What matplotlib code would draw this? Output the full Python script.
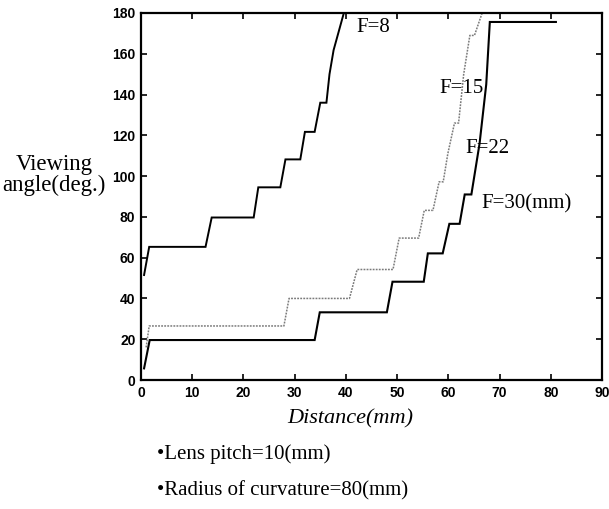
import matplotlib
matplotlib.use("Agg")
import matplotlib.pyplot as plt

# ---- data ----
f8_x = [0.6, 1.6, 12.6, 13.8, 22.0, 22.9, 27.2, 28.2, 31.1, 32.0, 33.9, 35.0, 36.2, 36.8, 37.6, 39.6]
f8_y = [51.5, 65.3, 65.3, 79.7, 79.7, 94.5, 94.5, 108.2, 108.2, 121.7, 121.7, 136.0, 136.0, 150.0, 161.8, 180.0]

f15_x = [1.0, 1.6, 27.9, 28.9, 40.7, 42.2, 49.2, 50.4, 54.2, 55.3, 57.0, 58.2, 59.0, 59.9, 61.2, 62.0, 63.0, 64.2, 65.1, 66.6]
f15_y = [16.0, 26.5, 26.5, 40.0, 40.0, 54.2, 54.2, 69.6, 69.6, 83.2, 83.2, 97.2, 97.2, 111.0, 126.0, 126.0, 150.0, 169.0, 169.0, 180.0]

f30_x = [0.6, 1.7, 33.9, 34.9, 48.0, 49.1, 55.2, 56.0, 58.9, 60.2, 62.2, 63.2, 64.5, 66.1, 67.4, 68.1, 81.0]
f30_y = [5.7, 19.6, 19.6, 33.2, 33.2, 48.2, 48.2, 62.1, 62.1, 76.6, 76.6, 91.0, 91.0, 116.0, 145.0, 175.6, 175.6]

curve_labels = ["F=8", "F=15", "F=22", "F=30(mm)"]
label_x = [42.1, 58.3, 63.4, 66.4]
label_y = [173.0, 143.0, 113.7, 86.6]

x_ticks = [0, 10, 20, 30, 40, 50, 60, 70, 80, 90]
y_ticks = [0, 20, 40, 60, 80, 100, 120, 140, 160, 180]

serif = ["Liberation Serif", "DejaVu Serif"]
tickfont = ["Liberation Sans Narrow", "Liberation Sans", "DejaVu Sans"]

fig = plt.figure(figsize=(6.09, 5.09), dpi=100)
ax = fig.add_axes([141 / 609, 1 - 380 / 509, (602 - 141) / 609, (380 - 13) / 509])

ax.plot(f8_x, f8_y, color="black", lw=1.4, solid_joinstyle="miter")
ax.plot(f15_x, f15_y, color="#7a7a7a", lw=1.1, linestyle=(0, (1.2, 0.8)))
ax.plot(f30_x, f30_y, color="black", lw=1.5, solid_joinstyle="miter")

for t, lx, ly in zip(curve_labels, label_x, label_y):
    ax.text(lx, ly, t, ha="left", va="center", fontsize=15, family=serif, color="black")

ax.set_xlim(0, 90)
ax.set_ylim(0, 180)
ax.set_xticks(x_ticks)
ax.set_yticks(y_ticks)
ax.tick_params(direction="in", length=4, width=1.2, top=True, right=True,
               labelsize=10, pad=4)
for lab in ax.get_xticklabels() + ax.get_yticklabels():
    lab.set_family(tickfont)
    lab.set_fontweight("bold")
for s in ax.spines.values():
    s.set_linewidth(1.6)

fig.text(54 / 609, 1 - 175 / 509, "Viewing\nangle(deg.)", ha="center", va="center",
         multialignment="center", fontsize=16.5, family=serif, linespacing=0.95)
fig.text(350.5 / 609, 1 - 419 / 509, "Distance(mm)", ha="center", va="center",
         fontsize=16, family=serif, style="italic")
fig.text(157 / 609, 1 - 454 / 509, "\u2022Lens pitch=10(mm)", ha="left", va="center",
         fontsize=15, family=serif)
fig.text(157 / 609, 1 - 491 / 509, "\u2022Radius of curvature=80(mm)", ha="left", va="center",
         fontsize=15, family=serif)

fig.savefig("out.png", dpi=100)
